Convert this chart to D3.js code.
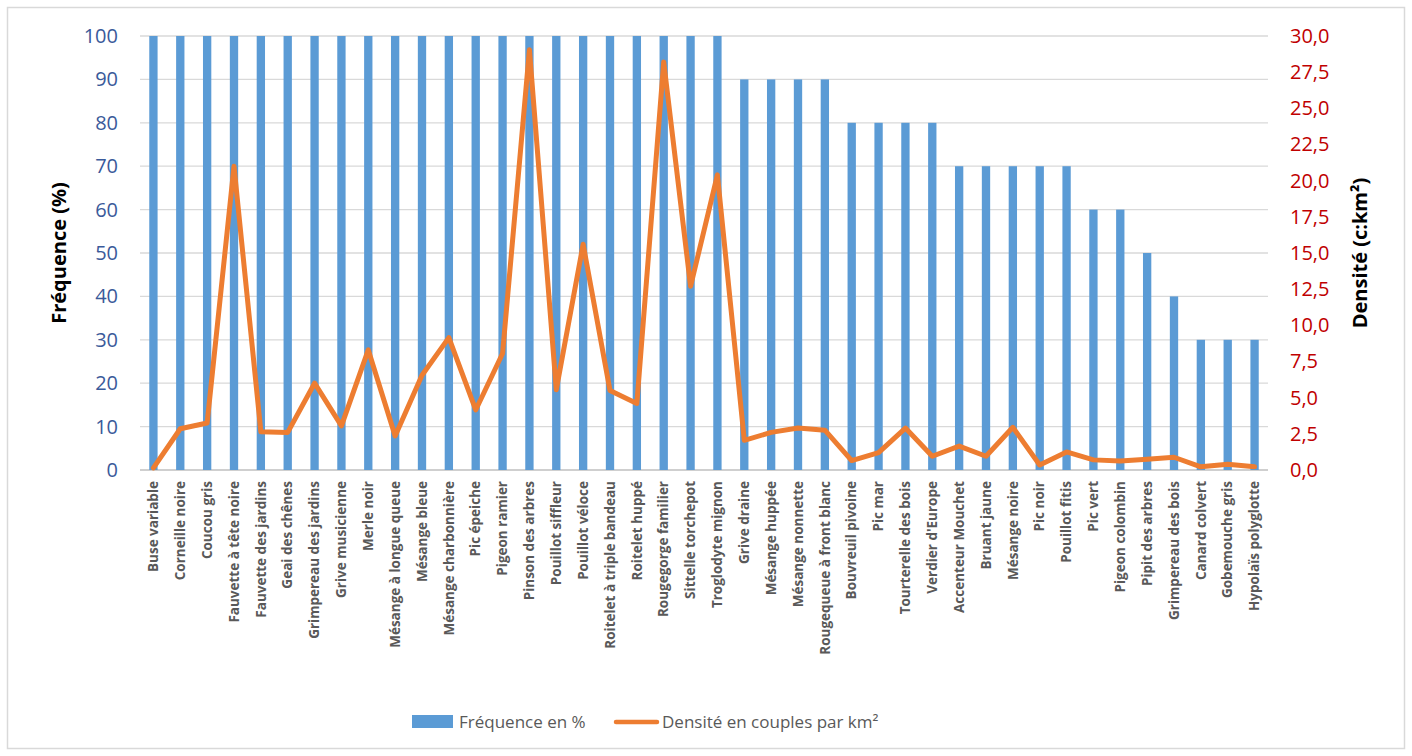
<!DOCTYPE html>
<html><head><meta charset="utf-8">
<script src="https://cdn.jsdelivr.net/npm/d3@7"></script>
<style>body{margin:0;background:#fff;} svg{display:block;}</style>
</head><body>
<svg id="chart" width="1412" height="756"></svg>
<script>
const categories = ["Buse variable","Corneille noire","Coucou gris","Fauvette à tête noire","Fauvette des jardins","Geai des chênes","Grimpereau des jardins","Grive musicienne","Merle noir","Mésange à longue queue","Mésange bleue","Mésange charbonnière","Pic épeiche","Pigeon ramier","Pinson des arbres","Pouillot siffleur","Pouillot véloce","Roitelet à triple bandeau","Roitelet huppé","Rougegorge familier","Sittelle torchepot","Troglodyte mignon","Grive draine","Mésange huppée","Mésange nonnette","Rougequeue à front blanc","Bouvreuil pivoine","Pic mar","Tourterelle des bois","Verdier d'Europe","Accenteur Mouchet","Bruant jaune","Mésange noire","Pic noir","Pouillot fitis","Pic vert","Pigeon colombin","Pipit des arbres","Grimpereau des bois","Canard colvert","Gobemouche gris","Hypolaïs polyglotte"];
const frequence = [100,100,100,100,100,100,100,100,100,100,100,100,100,100,100,100,100,100,100,100,100,100,90,90,90,90,80,80,80,80,70,70,70,70,70,60,60,50,40,30,30,30];
const densite = [0.15,2.85,3.25,21.0,2.65,2.6,6.0,3.05,8.3,2.35,6.55,9.15,4.15,8.05,29.05,5.55,15.6,5.5,4.6,28.2,12.7,20.4,2.05,2.6,2.9,2.75,0.65,1.2,2.9,0.95,1.65,0.95,2.95,0.35,1.25,0.7,0.62,0.75,0.88,0.22,0.4,0.22];
const leftTicks = [0,10,20,30,40,50,60,70,80,90,100];
const rightTicks = [0,2.5,5,7.5,10,12.5,15,17.5,20,22.5,25,27.5,30];
const seriesNames = ["Fréquence en %","Densité en couples par km²"];
const axisTitles = ["Fréquence (%)","Densité (c:km²)"];

const svg = d3.select("#chart");
const font = "'Open Sans', 'Liberation Sans', sans-serif";
const M = {left:140, right:1268, top:36, bottom:470};

svg.append("rect").attr("x",7.5).attr("y",7.5).attr("width",1397).attr("height",741)
  .attr("fill","#fff").attr("stroke","#d9d9d9").attr("stroke-width",1.5);

const x = d3.scaleBand().domain(categories).range([M.left,M.right]).paddingInner(0.69).paddingOuter(0.345);
const yL = d3.scaleLinear().domain([0,100]).range([M.bottom,M.top]);
const yR = d3.scaleLinear().domain([0,30]).range([M.bottom,M.top]);

// gridlines
svg.append("g").selectAll("line").data(leftTicks).join("line")
  .attr("x1",M.left).attr("x2",M.right).attr("y1",d=>yL(d)).attr("y2",d=>yL(d))
  .attr("stroke",d=>d===0?"#bfbfbf":"#d9d9d9").attr("stroke-width",1.3);

// left axis
const gL = svg.append("g").attr("transform",`translate(${M.left},0)`)
  .call(d3.axisLeft(yL).tickValues(leftTicks).tickSize(0).tickPadding(22).tickFormat(d3.format("d")));
gL.select(".domain").remove();
gL.selectAll("text").attr("font-family",font).attr("font-size",20).attr("fill","#3a5a9a");

// right axis
const fmtR = d=>d.toFixed(1).replace(".",",");
const gR = svg.append("g").attr("transform",`translate(${M.right},0)`)
  .call(d3.axisRight(yR).tickValues(rightTicks).tickSize(0).tickPadding(22).tickFormat(fmtR));
gR.select(".domain").remove();
gR.selectAll("text").attr("font-family",font).attr("font-size",20).attr("fill","#c00000");

// bars
svg.append("g").selectAll("rect").data(categories).join("rect")
  .attr("x",d=>x(d)).attr("width",x.bandwidth())
  .attr("y",(d,i)=>yL(frequence[i])).attr("height",(d,i)=>yL(0)-yL(frequence[i]))
  .attr("fill","#5b9bd5");

// line
const line = d3.line().x((d,i)=>x(categories[i])+x.bandwidth()/2).y(d=>yR(d));
svg.append("path").datum(densite).attr("d",line).attr("fill","none")
  .attr("stroke","#ed7d31").attr("stroke-width",5).attr("stroke-linejoin","round").attr("stroke-linecap","round");

// x labels
const gX = svg.append("g").attr("transform",`translate(0,${M.bottom})`)
  .call(d3.axisBottom(x).tickSize(0).tickPadding(0));
gX.select(".domain").remove();
gX.selectAll("text").attr("font-family",font).attr("font-size",13.5).attr("font-weight","bold").attr("fill","#595959")
  .attr("text-anchor","end").attr("dy","0.35em")
  .attr("transform","translate(0,11) rotate(-90)").attr("x",0).attr("y",0);

// axis titles
svg.append("text").attr("transform","translate(66,253) rotate(-90)").attr("text-anchor","middle")
  .attr("font-family",font).attr("font-size",20).attr("font-weight","bold").attr("fill","#000").text(axisTitles[0]);
svg.append("text").attr("transform","translate(1367,253) rotate(-90)").attr("text-anchor","middle")
  .attr("font-family",font).attr("font-size",20).attr("font-weight","bold").attr("fill","#000").text(axisTitles[1]);

// legend
const lg = svg.append("g");
lg.append("rect").attr("x",412).attr("y",715).attr("width",41).attr("height",13).attr("fill","#5b9bd5");
lg.append("text").attr("x",459).attr("y",722).attr("dy","0.35em").attr("font-family",font).attr("font-size",17).attr("fill","#595959").text(seriesNames[0]);
lg.append("line").attr("x1",616).attr("x2",657).attr("y1",722).attr("y2",722).attr("stroke","#ed7d31").attr("stroke-width",4.5).attr("stroke-linecap","round");
lg.append("text").attr("x",662).attr("y",722).attr("dy","0.35em").attr("font-family",font).attr("font-size",17).attr("fill","#595959").text(seriesNames[1]);
</script>
</body></html>
